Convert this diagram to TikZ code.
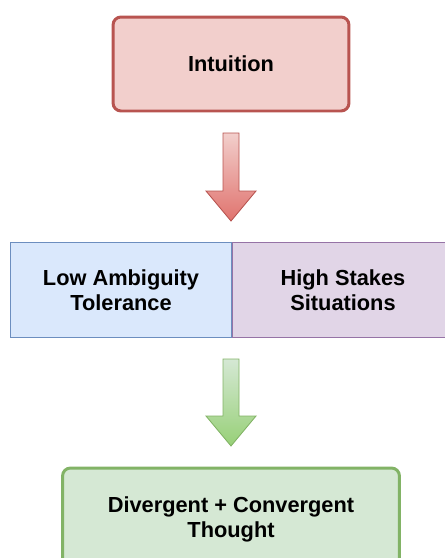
\documentclass[tikz,border=0pt]{standalone}
\usepackage{fontspec}
\setmainfont{Liberation Sans}
\usepackage{xcolor}
\usepackage{tikz}
\usetikzlibrary{positioning,calc,shapes}

\definecolor{intFill}{HTML}{F2CFCC}
\definecolor{intLine}{HTML}{B85450}
\definecolor{intDark}{HTML}{E0736E}
\definecolor{lowFill}{HTML}{DAE8FC}
\definecolor{lowLine}{HTML}{6C8EBF}
\definecolor{highFill}{HTML}{E1D5E7}
\definecolor{highLine}{HTML}{9673A6}
\definecolor{divFill}{HTML}{D5E8D4}
\definecolor{divLine}{HTML}{82B366}
\definecolor{divDark}{HTML}{97D077}

\begin{document}
\begin{tikzpicture}[x=0.02cm, y=-0.02cm,
    every node/.style={font=\fontsize{12.4}{14.3}\selectfont\bfseries, align=center},
    roundbox/.style={draw, rounded corners=0.16cm, line width=1.7pt},
    flatbox/.style={draw, line width=0.8pt, minimum width=4.42cm, minimum height=1.9cm}]
    \clip (0,0) rectangle (445,558);

    % Intuition box
    \node[roundbox, fill=intFill, draw=intLine, minimum width=4.72cm, minimum height=1.88cm] (intuition) at (231,64) {Intuition};

    % arrow down
    \coordinate (a1top) at (231,133);
    \coordinate (a1tip) at (231,221);
    \path[draw=intLine, line width=0.5pt, top color=intFill, bottom color=intDark]
        ($(a1top)+(-8,0)$) -- ($(a1top)+(8,0)$) -- ($(a1tip)+(8,-30)$) -- ($(a1tip)+(25,-30)$)
        -- (a1tip) -- ($(a1tip)+(-25,-30)$) -- ($(a1tip)+(-8,-30)$) -- cycle;

    % Low Ambiguity / High Stakes boxes
    \node[flatbox, fill=lowFill, draw=lowLine] (lowamb) at (121,290) {Low Ambiguity\\Tolerance};
    \node[flatbox, fill=highFill, draw=highLine] (highst) at (343,290) {High Stakes\\Situations};

    % arrow down
    \coordinate (a2top) at (231,359);
    \coordinate (a2tip) at (231,446);
    \path[draw=divLine, line width=0.5pt, top color=divFill, bottom color=divDark]
        ($(a2top)+(-8,0)$) -- ($(a2top)+(8,0)$) -- ($(a2tip)+(8,-30)$) -- ($(a2tip)+(25,-30)$)
        -- (a2tip) -- ($(a2tip)+(-25,-30)$) -- ($(a2tip)+(-8,-30)$) -- cycle;

    % Divergent + Convergent box
    \node[roundbox, fill=divFill, draw=divLine, minimum width=6.74cm, minimum height=2.04cm] (divconv) at (231,519) {Divergent + Convergent\\Thought};
\end{tikzpicture}
\end{document}
